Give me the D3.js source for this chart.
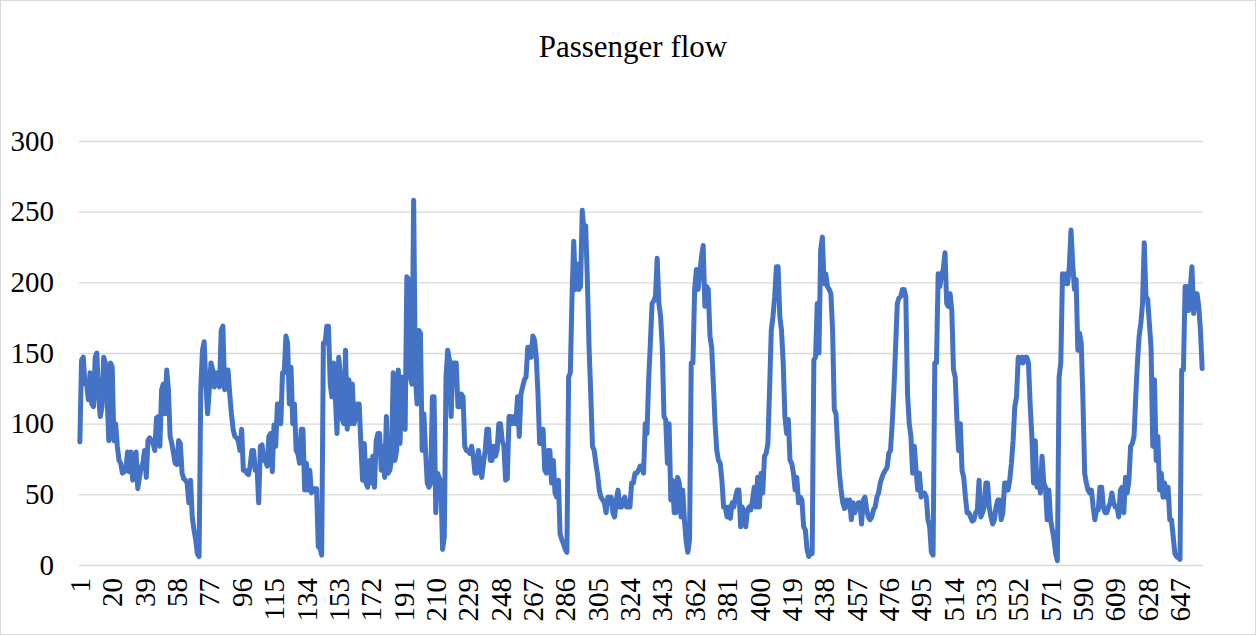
<!DOCTYPE html>
<html>
<head>
<meta charset="utf-8">
<script src="https://cdn.jsdelivr.net/npm/d3@7"></script>
<style>
    body { margin: 0; background: #fff; }
    text { font-family: "Liberation Serif", "Times New Roman", serif; fill: #000; }
</style>
</head>
<body>
<div id="passengerChart"></div>
<script>
// Passenger flow per period
const passengers = [
    87,145,147,128,128,117,136,114,112,147,150,119,105,112,147,143,119,88,143,140,88,100,84,74,72,65,66,67,80,66,80,60,72,80,54,62,69,72,81,62,88,90,88,86,81,104,105,84,124,128,107,138,124,91,
    86,79,72,71,88,86,65,61,60,58,44,60,34,25,18,8,6,124,152,158,128,107,124,143,138,126,136,131,126,166,169,124,138,138,121,107,96,91,90,88,81,96,67,67,65,64,70,81,81,67,70,44,84,85,74,
    74,70,91,93,66,99,84,114,114,100,136,136,162,157,114,140,100,114,81,79,72,96,96,53,72,53,67,51,54,54,54,13,12,7,157,157,169,169,128,119,143,119,93,147,133,103,100,152,96,131,100,128,100,105,114,114,
    86,60,86,58,55,74,58,77,55,88,93,93,67,84,62,105,65,67,74,136,74,81,138,86,133,100,96,204,202,133,128,258,133,114,166,164,81,107,81,58,55,58,119,119,37,65,62,58,11,20,133,152,145,105,143,143,
    143,112,112,121,119,84,81,81,79,84,77,65,65,81,72,62,72,81,96,96,74,74,84,77,81,100,100,88,84,60,61,105,105,100,105,100,119,91,121,126,131,133,154,154,147,162,159,147,121,86,86,96,67,65,81,
    81,58,74,51,48,60,22,18,15,11,9,133,136,190,229,195,213,195,197,251,237,240,202,154,121,84,81,72,64,53,48,46,44,37,48,48,48,37,34,46,53,41,41,46,48,41,41,41,58,58,65,65,67,70,70,65,100,
    93,131,157,185,187,190,217,185,176,154,105,103,72,100,46,60,37,37,62,58,34,53,32,17,9,18,143,143,195,209,195,206,218,226,183,197,195,162,154,128,100,81,74,72,60,41,41,34,41,33,44,41,48,53,53,
    27,41,34,27,39,41,39,46,55,41,62,41,65,51,77,79,86,124,166,176,190,211,211,176,166,143,105,93,103,74,72,65,53,62,44,48,46,27,25,11,6,8,8,145,147,185,150,223,232,199,206,197,195,192,166,110,
    107,84,65,53,44,40,46,41,46,32,44,37,41,44,44,29,46,48,39,34,32,34,39,41,48,51,58,62,65,67,69,79,81,100,124,154,185,189,190,195,195,190,121,100,91,65,84,67,53,65,48,51,51,48,32,27,
    9,7,143,143,206,197,206,209,221,185,183,192,180,138,133,103,81,100,67,62,48,37,37,34,31,32,37,39,60,34,37,41,58,58,41,34,29,32,41,46,46,32,37,58,58,53,60,72,88,112,119,147,143,147,143,147,
    147,143,114,91,58,88,55,62,51,77,58,55,32,53,32,25,18,8,3,133,143,206,199,206,199,211,237,213,195,202,152,164,157,117,65,58,53,51,53,41,32,39,39,55,55,41,37,37,41,44,51,44,41,41,34,53,
    55,37,62,51,60,84,86,91,119,143,162,171,185,228,190,188,171,154,84,131,74,91,53,65,48,58,48,55,32,32,20,8,6,5,4,138,138,197,197,180,195,211,178,192,192,183,166,139
];

// Category numbers 1..n
const categories = passengers.map((d, i) => i + 1);

// Labels shown on the category axis
const xTickLabels = [1, 20, 39, 58, 77, 96, 115, 134, 153, 172, 191, 210, 229, 248, 267, 286, 305, 324, 343, 362, 381, 400, 419, 438, 457, 476, 495, 514, 533, 552, 571, 590, 609, 628, 647];

// Value axis ticks
const yTickValues = [0, 50, 100, 150, 200, 250, 300];

const chartTitle = "Passenger flow";

// Define dimensions and margins for the chart
const outerWidth = 1256, outerHeight = 635;
const margin = {top: 141, right: 53, bottom: 70, left: 79},
    width = outerWidth - margin.left - margin.right,
    height = outerHeight - margin.top - margin.bottom;

const root = d3.select("#passengerChart")
    .append("svg")
    .attr("width", outerWidth)
    .attr("height", outerHeight);

// Chart area border
root.append("rect")
    .attr("x", 0.5)
    .attr("y", 0.5)
    .attr("width", outerWidth - 1)
    .attr("height", outerHeight - 1)
    .attr("fill", "#fff")
    .attr("stroke", "#d9d9d9");

// Title
root.append("text")
    .attr("x", 633)
    .attr("y", 57)
    .attr("text-anchor", "middle")
    .style("font-size", "31px")
    .text(chartTitle);

const svg = root.append("g")
    .attr("transform", `translate(${margin.left}, ${margin.top})`);

// X scale (categories sit between tick marks)
const x = d3.scaleBand()
    .domain(categories)
    .range([0, width]);

// Y scale
const y = d3.scaleLinear()
    .domain([0, 300])
    .range([height, 0]);

// Y axis with gridlines
const yAxis = svg.append("g")
    .call(d3.axisLeft(y)
        .tickValues(yTickValues)
        .tickSize(-width)
        .tickPadding(25));
yAxis.select(".domain").remove();
yAxis.selectAll("line")
    .attr("stroke", "#d9d9d9")
    .attr("stroke-width", 1.3);
yAxis.selectAll("text")
    .style("font-size", "29px")
    .attr("font-family", null);

// X axis
const xAxis = svg.append("g")
    .attr("transform", `translate(0, ${height})`)
    .call(d3.axisBottom(x)
        .tickValues(xTickLabels)
        .tickSize(0));
xAxis.select(".domain").remove();
xAxis.selectAll("text")
    .attr("transform", "rotate(-90)")
    .attr("x", -13)
    .attr("y", 0)
    .attr("dy", "0.35em")
    .style("text-anchor", "end")
    .style("font-size", "29px");

// Add the line
svg.append("path")
    .datum(passengers)
    .attr("fill", "none")
    .attr("stroke", "#4472c4")
    .attr("stroke-width", 5)
    .attr("stroke-linejoin", "round")
    .attr("stroke-linecap", "round")
    .attr("d", d3.line()
        .x((d, i) => x(categories[i]) + x.bandwidth() / 2)
        .y(d => y(d))
    );
</script>
</body>
</html>
